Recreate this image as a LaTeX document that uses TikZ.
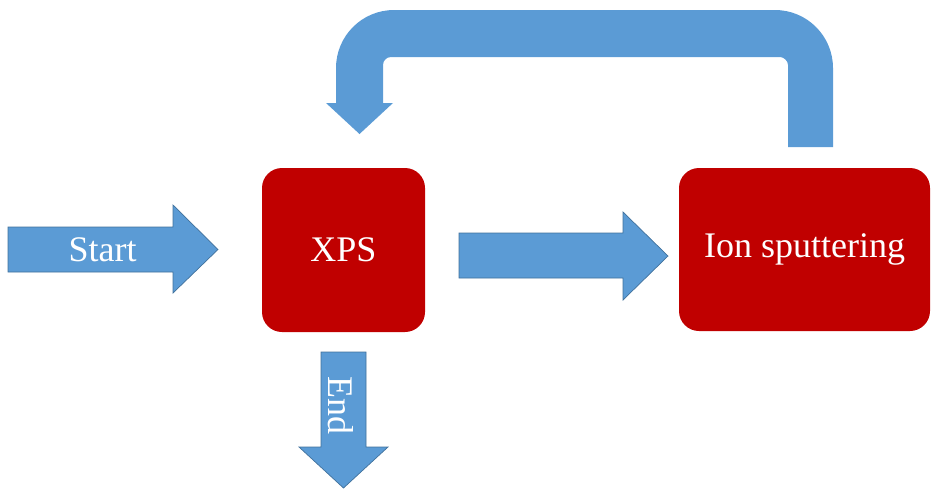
\documentclass[tikz,border=0pt]{standalone}
\usepackage{fontspec}
\setmainfont{Liberation Serif}
\definecolor{arrowblue}{HTML}{5B9BD5}
\definecolor{arrowedge}{HTML}{41719C}
\definecolor{boxred}{HTML}{C00000}
\begin{document}
\begin{tikzpicture}[x=1pt,y=-1pt,
  box/.style={fill=boxred,draw=none,rounded corners=20pt,inner sep=0pt,
    text=white,font=\fontsize{36}{40}\selectfont},
  blockarrow/.style={fill=arrowblue,draw=arrowedge,line width=0.7pt,line join=miter},
  bentarrow/.style={fill=arrowblue,draw=none},
  arrowtext/.style={text=white,inner sep=0pt,font=\fontsize{36}{40}\selectfont}]
\useasboundingbox (0,0) rectangle (932,488);
% boxes
\node[box,minimum width=163pt,minimum height=164pt] (xps) at (343.5,250) {XPS};
\node[box,minimum width=251pt,minimum height=163pt] (ion) at (804.5,249.5) {Ion sputtering};
% Start arrow
\path[blockarrow] (8,227) -- (173,227) -- (173,205) -- (218,249.5) -- (173,293)
  -- (173,272) -- (8,272) -- cycle;
\node[arrowtext] (start) at (102.5,250) {Start};
% XPS -> Ion sputtering
\path[blockarrow] (459,233) -- (623,233) -- (623,212) -- (668,256) -- (623,300)
  -- (623,278) -- (459,278) -- cycle;
% End arrow
\path[blockarrow] (321,352) -- (366,352) -- (366,447) -- (388,447) -- (343.5,488)
  -- (299,447) -- (321,447) -- cycle;
\node[arrowtext,rotate=-90] (end) at (341,405) {End};
% feedback U-arrow
\path[bentarrow] (788,147) -- (788,65) .. controls (788,60.6) and (783.6,57) .. (780,57)
  -- (391,57) .. controls (386.6,57) and (383,60.6) .. (383,65)
  -- (383,103) -- (393,103) -- (359.5,134) -- (326,103) -- (336,103)
  -- (336,68) .. controls (336,36) and (362,10) .. (394,10)
  -- (775,10) .. controls (807,10) and (833,36) .. (833,68)
  -- (833,147) -- cycle;
\end{tikzpicture}
\end{document}
